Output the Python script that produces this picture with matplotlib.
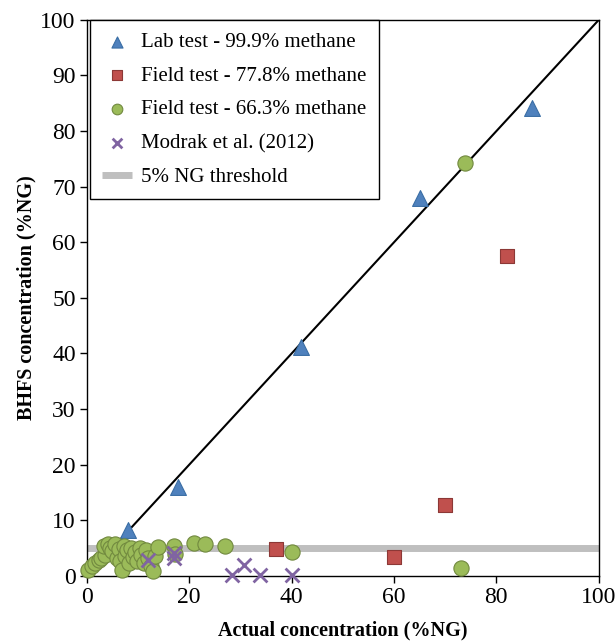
import matplotlib
matplotlib.use("Agg")
import matplotlib.pyplot as plt

# Lab test - 99.9% methane
lab_x = [8.0, 17.8, 41.8, 65.0, 86.9]
lab_y = [8.3, 16.0, 41.2, 68.0, 84.2]

# Field test - 77.8% methane
f78_x = [36.9, 60.0, 70.0, 82.0]
f78_y = [4.9, 3.4, 12.8, 57.6]

# Field test - 66.3% methane
f66_x = [0.3, 1.0, 1.5, 2.3, 2.8, 3.5, 3.3, 4.2, 4.6, 5.0, 5.5, 5.8, 6.2, 6.5,
         6.8, 7.2, 7.5, 7.8, 8.3, 8.6, 9.0, 9.4, 9.8, 10.3, 10.6, 11.2, 11.5,
         12.0, 12.6, 12.9, 13.4, 13.9, 17.0, 17.2, 20.9, 23.0, 27.0, 40.0,
         73.0, 73.8]
f66_y = [1.0, 1.8, 2.3, 2.8, 3.3, 3.8, 5.3, 5.7, 5.0, 4.4, 5.8, 3.2, 4.8, 2.6,
         1.1, 5.4, 3.6, 4.6, 2.3, 5.1, 3.4, 4.3, 2.6, 5.0, 3.8, 2.4, 4.6,
         3.3, 1.8, 0.9, 3.6, 5.2, 5.4, 4.0, 5.9, 5.7, 5.4, 4.3,
         1.4, 74.2]

# Modrak et al. (2012)
mod_x = [12.0, 17.0, 17.0, 28.3, 30.7, 33.8, 40.0]
mod_y = [2.9, 4.1, 3.2, 0.1, 2.0, 0.2, 0.2]

threshold = 5
ticks = [0, 20, 40, 60, 80, 100]
yticks = [0, 10, 20, 30, 40, 50, 60, 70, 80, 90, 100]

plt.rcParams["font.family"] = ["Liberation Serif", "DejaVu Serif"]

fig = plt.figure(figsize=(6.16, 6.42), dpi=100)
ax = fig.add_axes([0.141, 0.103, 0.831, 0.866])

ax.plot([0, 100], [threshold, threshold], color="#bfbfbf", lw=5,
        solid_capstyle="butt", label="5% NG threshold", zorder=1)
ax.plot([0, 100], [0, 100], color="black", lw=1.5, zorder=2)

ax.scatter(lab_x, lab_y, marker="^", s=130, color="#4f81bd",
           edgecolor="#3a6ea5", lw=0.8, label="Lab test - 99.9% methane",
           zorder=3, clip_on=False)
ax.scatter(f78_x, f78_y, marker="s", s=100, color="#c0504d",
           edgecolor="#8c3836", lw=0.8, label="Field test - 77.8% methane",
           zorder=3, clip_on=False)
ax.scatter(f66_x, f66_y, marker="o", s=120, color="#9bbb59",
           edgecolor="#71893f", lw=0.8, label="Field test - 66.3% methane",
           zorder=3, clip_on=False)
ax.scatter(mod_x, mod_y, marker="x", s=100, color="#8064a2", lw=2,
           label="Modrak et al. (2012)", zorder=4, clip_on=False)

ax.set_xlim(0, 100)
ax.set_ylim(0, 100)
ax.set_xticks(ticks)
ax.set_yticks(yticks)
ax.tick_params(direction="out", length=5, width=1, labelsize=17, color="black",
               pad=3)
for s in ax.spines.values():
    s.set_linewidth(1)
    s.set_color("black")

ax.set_xlabel("Actual concentration (%NG)", fontsize=14.5, fontweight="bold",
              labelpad=9)
ax.set_ylabel("BHFS concentration (%NG)", fontsize=14.5, fontweight="bold",
              labelpad=3)

handles, labels = ax.get_legend_handles_labels()
order = [1, 2, 3, 4, 0]
leg = ax.legend([handles[i] for i in order], [labels[i] for i in order],
                loc="upper left", bbox_to_anchor=(0.006, 1.0), fontsize=15,
                fancybox=False, edgecolor="black", framealpha=1,
                borderaxespad=0, handlelength=1.4, handletextpad=0.45,
                labelspacing=0.68, markerscale=0.7, borderpad=0.6)
leg.get_frame().set_linewidth(1)

fig.savefig("out.png", dpi=100)
